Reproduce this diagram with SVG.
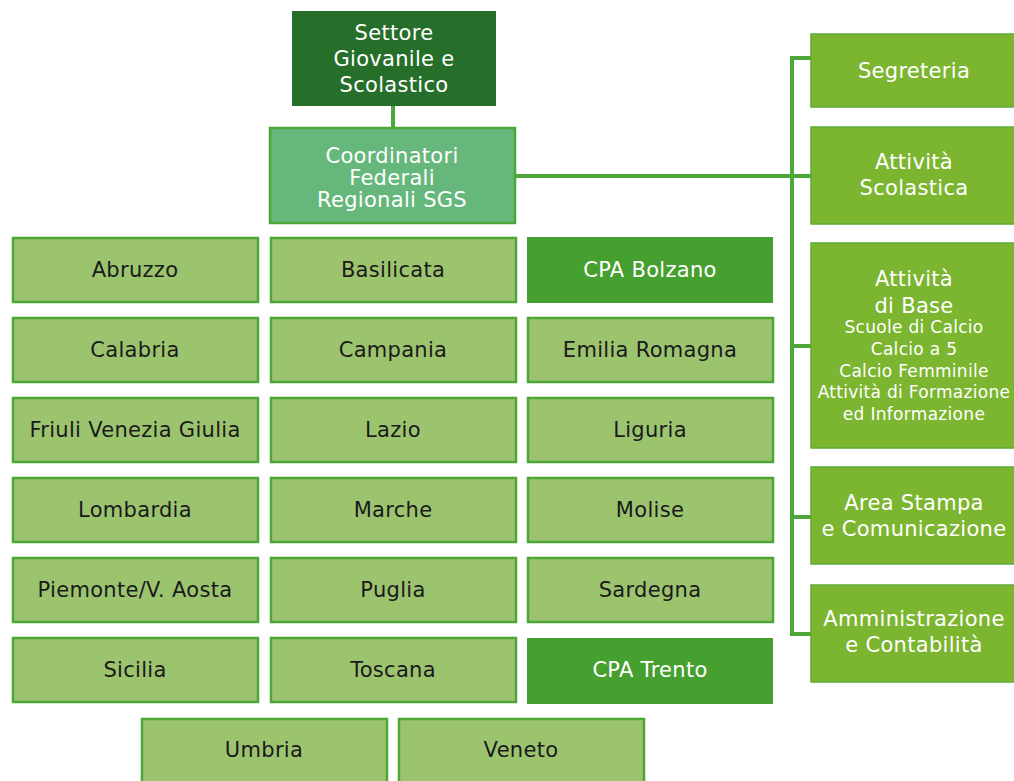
<svg xmlns="http://www.w3.org/2000/svg" width="1014" height="781" viewBox="0 0 1014 781">
<style>
text{font-family:"DejaVu Sans","Liberation Sans",sans-serif;font-size:21px;text-anchor:middle;letter-spacing:0.3px}
.w{fill:#ffffff}
.k{fill:#1a1a1a}
.s{font-size:17px;letter-spacing:0.3px}
.top{fill:#256F2A}
.coord{fill:#66B77B;stroke:#4DA738;stroke-width:2.5}
.reg{fill:#9CC46F;stroke:#4DA738;stroke-width:2.5}
.cpa{fill:#46A02F}
.side{fill:#7CB530;stroke:#5DAB3A;stroke-width:1.5}
.con{stroke:#4DA738;stroke-width:4;fill:none}
</style>
<g id="connectors">
<line class="con" x1="393" y1="106" x2="393" y2="127"/>
<line class="con" x1="516" y1="176" x2="792" y2="176"/>
<polyline class="con" points="811,58 792,58 792,634 811,634"/>
<line class="con" x1="792" y1="346" x2="811" y2="346"/>
<line class="con" x1="792" y1="517" x2="811" y2="517"/>
<line class="con" x1="792" y1="176" x2="811" y2="176"/>
</g>
<g id="n-settore"><rect class="top" x="292" y="11" width="204" height="95"/>
<text class="w" x="394" y="40">Settore</text><text class="w" x="394" y="66">Giovanile e</text><text class="w" x="394" y="92">Scolastico</text></g>
<g id="n-coord"><rect class="coord" x="270" y="128" width="245" height="95"/>
<text class="w" x="392" y="163">Coordinatori</text><text class="w" x="392" y="185">Federali</text><text class="w" x="392" y="207">Regionali SGS</text></g>
<g id="n-segreteria"><rect class="side" x="811" y="34" width="220" height="73"/><text class="w" x="914" y="78">Segreteria</text></g>
<g id="n-scolastica"><rect class="side" x="811" y="127" width="220" height="97"/><text class="w" x="914" y="169">Attività</text><text class="w" x="914" y="195">Scolastica</text></g>
<g id="n-base"><rect class="side" x="811" y="243" width="220" height="205"/>
<text class="w" x="914" y="286">Attività</text><text class="w" x="914" y="313">di Base</text>
<text class="w s" x="914" y="333">Scuole di Calcio</text><text class="w s" x="914" y="355">Calcio a 5</text><text class="w s" x="914" y="377">Calcio Femminile</text><text class="w s" x="914" y="398">Attività di Formazione</text><text class="w s" x="914" y="420">ed Informazione</text></g>
<g id="n-stampa"><rect class="side" x="811" y="467" width="220" height="97"/><text class="w" x="914" y="510">Area Stampa</text><text class="w" x="914" y="536">e Comunicazione</text></g>
<g id="n-amm"><rect class="side" x="811" y="585" width="220" height="97"/><text class="w" x="914" y="626">Amministrazione</text><text class="w" x="914" y="652">e Contabilità</text></g>
<g id="n-abruzzo"><rect class="reg" x="13" y="238" width="245" height="64"/><text class="k" x="135" y="277">Abruzzo</text></g>
<g id="n-basilicata"><rect class="reg" x="271" y="238" width="245" height="64"/><text class="k" x="393" y="277">Basilicata</text></g>
<g id="n-bolzano"><rect class="cpa" x="527" y="237" width="246" height="66"/><text class="w" x="650" y="277">CPA Bolzano</text></g>
<g id="n-calabria"><rect class="reg" x="13" y="318" width="245" height="64"/><text class="k" x="135" y="357">Calabria</text></g>
<g id="n-campania"><rect class="reg" x="271" y="318" width="245" height="64"/><text class="k" x="393" y="357">Campania</text></g>
<g id="n-emilia"><rect class="reg" x="528" y="318" width="245" height="64"/><text class="k" x="650" y="357">Emilia Romagna</text></g>
<g id="n-friuli"><rect class="reg" x="13" y="398" width="245" height="64"/><text class="k" x="135" y="437">Friuli Venezia Giulia</text></g>
<g id="n-lazio"><rect class="reg" x="271" y="398" width="245" height="64"/><text class="k" x="393" y="437">Lazio</text></g>
<g id="n-liguria"><rect class="reg" x="528" y="398" width="245" height="64"/><text class="k" x="650" y="437">Liguria</text></g>
<g id="n-lombardia"><rect class="reg" x="13" y="478" width="245" height="64"/><text class="k" x="135" y="517">Lombardia</text></g>
<g id="n-marche"><rect class="reg" x="271" y="478" width="245" height="64"/><text class="k" x="393" y="517">Marche</text></g>
<g id="n-molise"><rect class="reg" x="528" y="478" width="245" height="64"/><text class="k" x="650" y="517">Molise</text></g>
<g id="n-piemonte"><rect class="reg" x="13" y="558" width="245" height="64"/><text class="k" x="135" y="597">Piemonte/V. Aosta</text></g>
<g id="n-puglia"><rect class="reg" x="271" y="558" width="245" height="64"/><text class="k" x="393" y="597">Puglia</text></g>
<g id="n-sardegna"><rect class="reg" x="528" y="558" width="245" height="64"/><text class="k" x="650" y="597">Sardegna</text></g>
<g id="n-sicilia"><rect class="reg" x="13" y="638" width="245" height="64"/><text class="k" x="135" y="677">Sicilia</text></g>
<g id="n-toscana"><rect class="reg" x="271" y="638" width="245" height="64"/><text class="k" x="393" y="677">Toscana</text></g>
<g id="n-trento"><rect class="cpa" x="527" y="638" width="246" height="66"/><text class="w" x="650" y="677">CPA Trento</text></g>
<g id="n-umbria"><rect class="reg" x="142" y="719" width="245" height="70"/><text class="k" x="264" y="757">Umbria</text></g>
<g id="n-veneto"><rect class="reg" x="399" y="719" width="245" height="70"/><text class="k" x="521" y="757">Veneto</text></g>
</svg>
